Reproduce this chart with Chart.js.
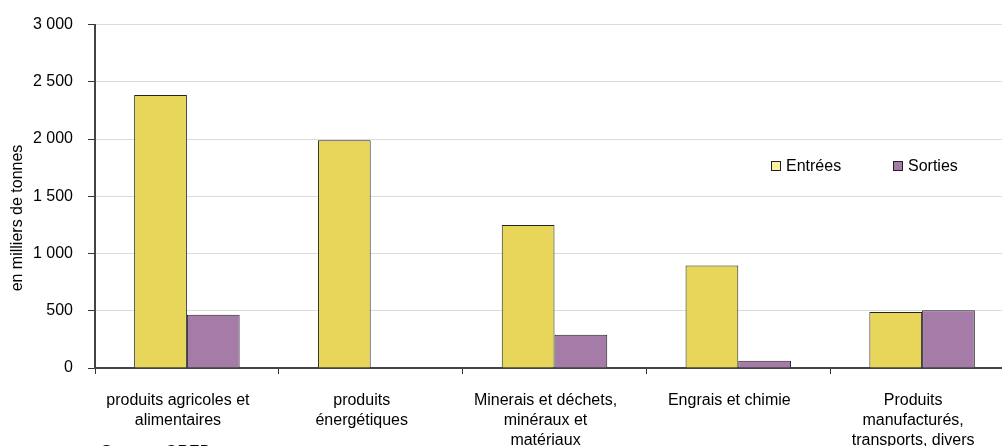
<!DOCTYPE html>
<html lang="fr">
<head>
<meta charset="utf-8">
<script src="https://cdn.jsdelivr.net/npm/chart.js@4/dist/chart.umd.min.js"></script>
<style>
  html, body { margin: 0; padding: 0; background: #fff; overflow: hidden; }
  #wrap { width: 1002px; height: 446px; overflow: hidden; position: relative; }
  canvas { display: block; }
</style>
</head>
<body>
<div id="wrap">
  <canvas id="myChart" width="1016" height="466"></canvas>
</div>
<script>
// Données du graphique (en milliers de tonnes)
const categories = [
    ['produits agricoles et', 'alimentaires'],
    ['produits', 'énergétiques'],
    ['Minerais et déchets,', 'minéraux et', 'matériaux'],
    ['Engrais et chimie'],
    ['Produits', 'manufacturés,', 'transports, divers']
];
const entrees = [2385, 1990, 1250, 895, 490];
const sorties = [465, 0, 290, 63, 505];
const seriesNames = ['Entrées', 'Sorties'];
const yTicks = [0, 500, 1000, 1500, 2000, 2500, 3000];

const FONT = "'Liberation Sans', Arial, sans-serif";

function formatNumber(v) {
    return String(v).replace(/\B(?=(\d{3})+(?!\d))/g, ' ');
}

// Légende dans la zone du graphique, titre de l'axe et source
const decorPlugin = {
    id: 'decor',
    afterDraw(chart) {
        const ctx = chart.ctx;
        const area = chart.chartArea;
        ctx.save();
        ctx.font = '16px ' + FONT;
        ctx.fillStyle = '#000';
        ctx.textBaseline = 'middle';

        // Légende
        const legendY = 166;
        const starts = [area.right - 243, area.right - 121];
        chart.data.datasets.forEach((ds, i) => {
            const x = starts[i];
            ctx.fillStyle = ds.legendColor || ds.backgroundColor;
            ctx.fillRect(x, legendY - 5, 9, 9);
            ctx.strokeStyle = '#222';
            ctx.lineWidth = 1;
            ctx.strokeRect(x + 0.5, legendY - 4.5, 9, 9);
            ctx.fillStyle = '#000';
            ctx.textAlign = 'left';
            ctx.fillText(ds.label, x + 15, legendY + 1);
        });

        // Titre de l'axe Y
        ctx.save();
        ctx.translate(18, 218);
        ctx.rotate(-Math.PI / 2);
        ctx.textAlign = 'center';
        ctx.fillText('en milliers de tonnes', 0, 0);
        ctx.restore();

        // Source (coupée en bas)
        ctx.textAlign = 'left';
        ctx.textBaseline = 'alphabetic';
        ctx.fillText('Source : OREB', 101, 457);
        ctx.restore();
    }
};

const ctx = document.getElementById('myChart').getContext('2d');
new Chart(ctx, {
    type: 'bar',
    data: {
        labels: categories,
        datasets: [{
            label: seriesNames[0],
            data: entrees,
            backgroundColor: '#e8d65a',
            legendColor: '#fbf0a4',
            borderColor: '#222',
            borderWidth: 1,
            categoryPercentage: 0.574,
            barPercentage: 1
        }, {
            label: seriesNames[1],
            data: sorties,
            backgroundColor: '#a47ca7',
            borderColor: '#222',
            borderWidth: 1,
            categoryPercentage: 0.574,
            barPercentage: 1
        }]
    },
    options: {
        responsive: false,
        animation: false,
        layout: {
            autoPadding: false,
            padding: { top: 21, right: 2, left: 0, bottom: 0 }
        },
        plugins: {
            legend: { display: false },
            tooltip: { enabled: false }
        },
        scales: {
            x: {
                afterFit(scale) { scale.height = 98; },
                grid: {
                    drawOnChartArea: false,
                    tickLength: 6,
                    tickColor: '#333',
                    offset: true
                },
                border: { color: '#444', width: 2 },
                ticks: {
                    color: '#000',
                    font: { family: FONT, size: 16, lineHeight: 1.27 },
                    padding: 16,
                    labelOffset: -9,
                    maxRotation: 0,
                    autoSkip: false
                }
            },
            y: {
                min: 0,
                max: 3000,
                afterFit(scale) { scale.width = 95; },
                afterBuildTicks(scale) {
                    scale.ticks = yTicks.map(v => ({ value: v }));
                },
                grid: {
                    color: '#dcdcdc',
                    lineWidth: 1,
                    tickLength: 7,
                    tickColor: '#333'
                },
                border: { color: '#444', width: 2 },
                ticks: {
                    color: '#000',
                    font: { family: FONT, size: 16 },
                    padding: 15,
                    callback: v => formatNumber(v)
                }
            }
        }
    },
    plugins: [decorPlugin]
});
</script>
</body>
</html>
